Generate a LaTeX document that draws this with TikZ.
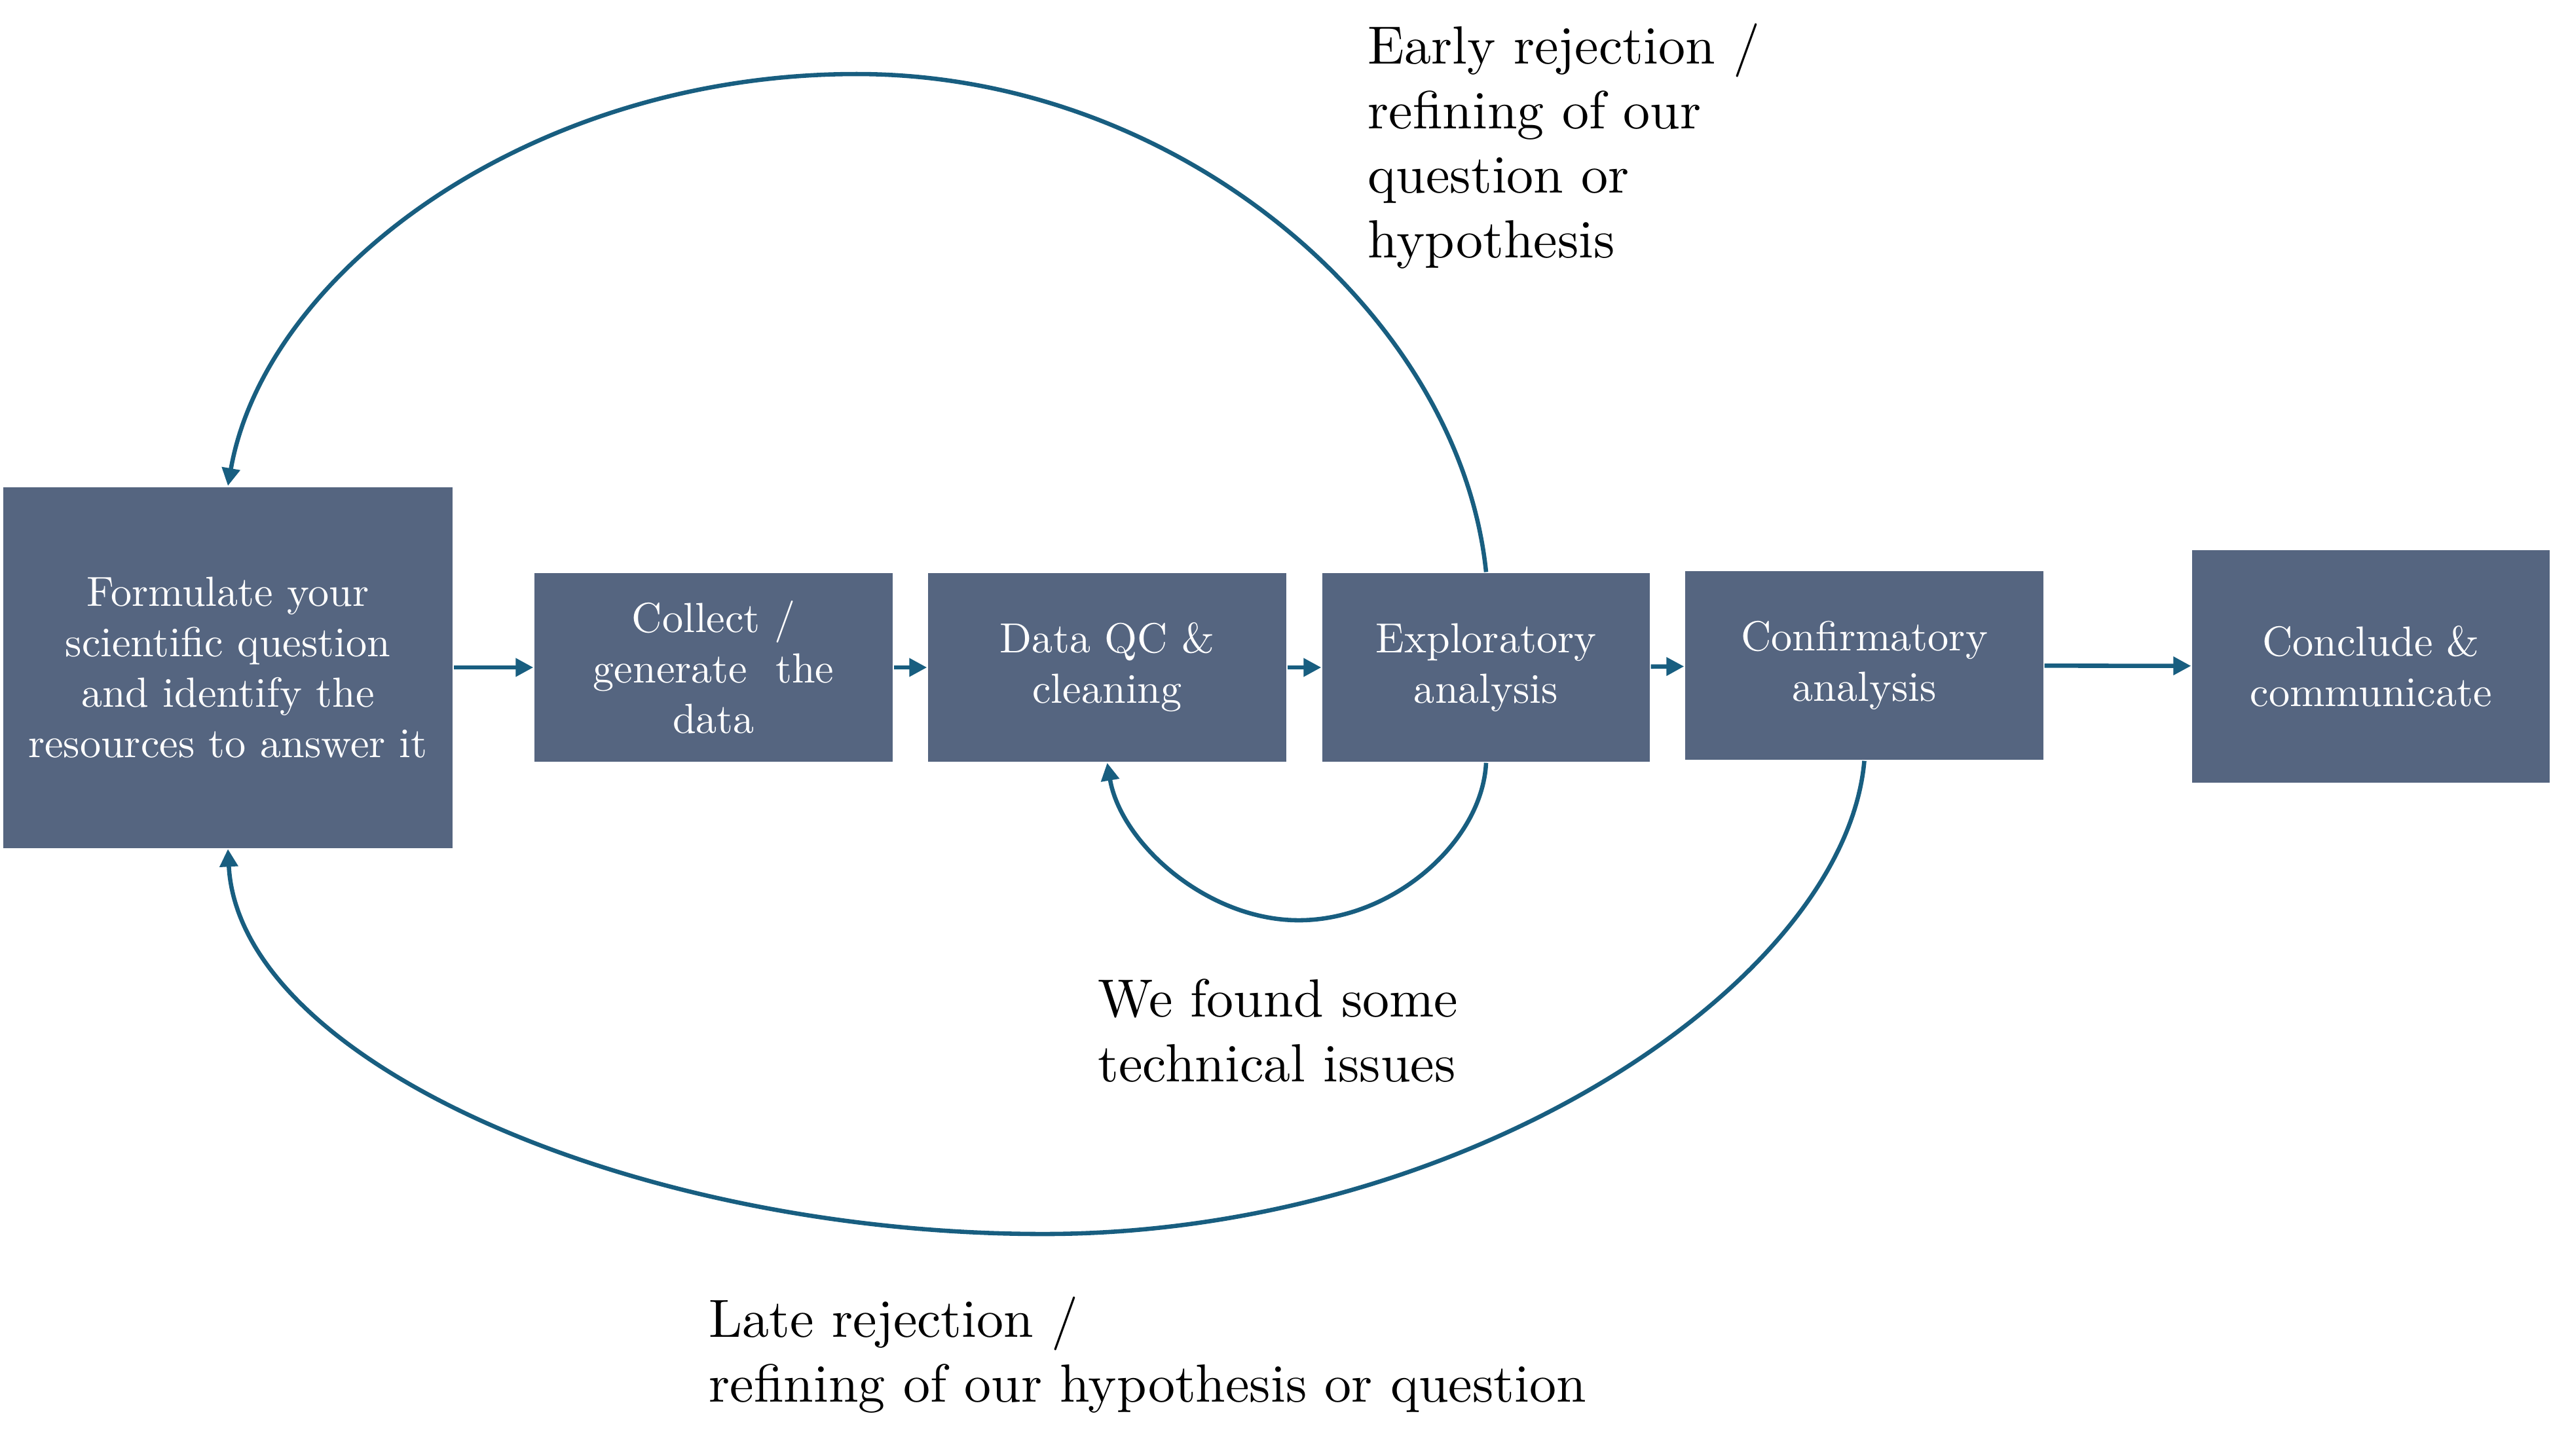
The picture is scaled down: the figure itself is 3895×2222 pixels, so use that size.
\documentclass[tikz,border=0pt]{standalone}
\usepackage{fontspec}
\newfontfamily\boxfont{lmroman10-regular.otf}
\usetikzlibrary{arrows.meta}
\definecolor{boxfill}{RGB}{85,101,128}
\definecolor{conncol}{RGB}{24,94,128}
\tikzset{
  stage/.style={rectangle, fill=boxfill, draw=none, text=white, align=center,
    inner sep=0pt, font=\boxfont\fontsize{7.83}{9.4}\selectfont},
  conn/.style={draw=conncol, line width=0.8pt, -{Triangle[length=3.3pt,width=3.3pt]}},
  note/.style={align=left, inner sep=0pt, anchor=base west, font=\fontsize{10}{12}\selectfont}
}
\begin{document}
\begin{tikzpicture}[x=0.121951pt, y=-0.121951pt]
\useasboundingbox (0,0) rectangle (3895,2222);
\node[stage, minimum width=83.66pt, minimum height=67.2pt] (a) at (348,1019)
  {Formulate your\\scientific question\\and identify the\\resources to answer it};
\node[stage, minimum width=66.71pt, minimum height=35.12pt] (b) at (1089.5,1019)
  {Collect /\\generate\ \ the\\data};
\node[stage, minimum width=66.71pt, minimum height=35.12pt] (c) at (1690.5,1019)
  {Data QC \&\\cleaning};
\node[stage, minimum width=60.98pt, minimum height=35.12pt] (e) at (2269,1019)
  {Exploratory\\analysis};
\node[stage, minimum width=66.71pt, minimum height=35.12pt] (g) at (2846.5,1016)
  {Confirmatory\\analysis};
\node[stage, minimum width=66.59pt, minimum height=43.29pt] (h) at (3620,1017)
  {Conclude \&\\communicate};

\draw[conn] (a) -- (b);
\draw[conn] (b) -- (c);
\draw[conn] (c) -- (e);
\draw[conn] (e) -- (g);
\draw[conn] (g) -- (h);

\coordinate (toppeak) at (1308,113);
\coordinate (smallbot) at (1983,1405);
\coordinate (bigbot) at (1593,1884);

\draw[conn] (e.north) .. controls +(-40,-391) and +(495,0) .. (toppeak)
  .. controls +(-500,0) and +(57,-325) .. (a.north);
\draw[conn] (e.south) .. controls +(-6,121) and +(143,0) .. (smallbot)
  .. controls +(-140,0) and +(21,123) .. (c.south);
\draw[conn] (g.south) .. controls +(-30,339) and +(645,0) .. (bigbot)
  .. controls +(-622,0) and +(17,325) .. (a.south);

\node[note] (t1) at (2087,393) {Early rejection /\\refining of our\\question or\\hypothesis};
\node[note] (t2) at (1675,1651) {We found some\\technical issues};
\node[note] (t3) at (1081,2140) {Late rejection /\\refining of our hypothesis or question};
\end{tikzpicture}
\end{document}
